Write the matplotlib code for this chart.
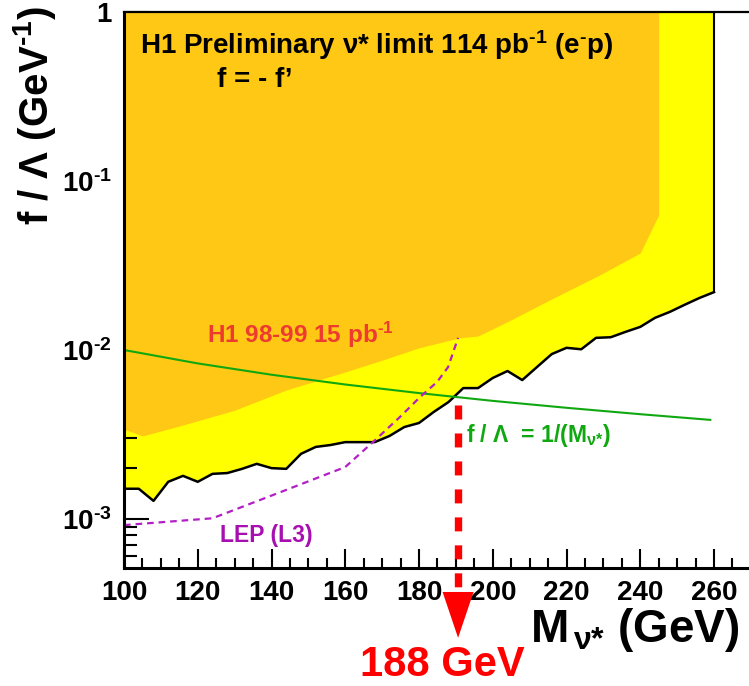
import matplotlib
matplotlib.use("Agg")
import matplotlib.pyplot as plt
from matplotlib.ticker import FixedLocator, FuncFormatter, LogLocator, MultipleLocator, NullFormatter

# ---------------- data ----------------
# H1 114 pb^-1 exclusion limit (black line, lower edge of yellow band)
mass = [100, 104, 108, 112, 116, 120, 124, 128, 132, 136, 140, 144, 148, 152,
        156, 160, 164, 168, 172, 176, 180, 184, 188, 192, 196, 200, 204, 208,
        212, 216, 220, 224, 228, 232, 236, 240, 244, 248, 252, 256, 260]
limit = [1.51e-3, 1.51e-3, 1.28e-3, 1.66e-3, 1.80e-3, 1.66e-3, 1.85e-3, 1.87e-3,
         1.98e-3, 2.12e-3, 2.00e-3, 1.98e-3, 2.43e-3, 2.67e-3, 2.74e-3, 2.85e-3,
         2.85e-3, 2.85e-3, 3.10e-3, 3.50e-3, 3.70e-3, 4.30e-3, 4.92e-3, 5.95e-3,
         5.95e-3, 6.83e-3, 7.51e-3, 6.64e-3, 7.93e-3, 9.46e-3, 1.03e-2, 1.01e-2,
         1.18e-2, 1.19e-2, 1.28e-2, 1.37e-2, 1.55e-2, 1.68e-2, 1.85e-2, 2.03e-2,
         2.20e-2]

# H1 98-99 15 pb^-1 limit (orange region lower edge)
old_mass = [100, 105, 115, 130, 144, 159, 170, 180, 191, 196, 204, 215.5, 229, 240, 245, 245]
old_limit = [3.4e-3, 3.1e-3, 3.55e-3, 4.4e-3, 5.8e-3, 7.3e-3, 8.7e-3, 1.03e-2,
             1.18e-2, 1.21e-2, 1.47e-2, 1.98e-2, 2.78e-2, 3.75e-2, 6.3e-2, 1.0]

# LEP (L3) limit (dashed magenta)
lep_mass = [100, 124, 142, 160, 167.5, 174.8, 180.3, 184.9, 187.9, 190.6]
lep_limit = [9.2e-4, 1.01e-3, 1.43e-3, 2.03e-3, 2.85e-3, 4.01e-3, 5.27e-3,
             6.47e-3, 7.93e-3, 1.18e-2]

# f / Lambda = 1/M curve (green)
curve_mass = [100, 120, 140, 160, 180, 200, 220, 240, 259]
curve_value = [1.0e-2, 8.33e-3, 7.14e-3, 6.25e-3, 5.56e-3, 5.0e-3, 4.55e-3, 4.17e-3, 3.86e-3]

# mass limit marker (red dashed line + arrow)
limit_mass = 190.6
marker_top = 4.7e-3
marker_bottom = 3.7e-4
arrow_tip = 1.98e-4
arrow_half_width = 4.2

x_major = [100, 120, 140, 160, 180, 200, 220, 240, 260]
y_major = [1e-3, 1e-2, 1e-1, 1.0]
y_labels = {1.0: "1", 1e-1: r"10$^{\text{-}1}$", 1e-2: r"10$^{\text{-}2}$",
            1e-3: r"10$^{\text{-}3}$"}

# ---------------- style ----------------
FAM = ["Liberation Sans", "DejaVu Sans"]
plt.rcParams["font.family"] = FAM
plt.rcParams["mathtext.fontset"] = "custom"
plt.rcParams["mathtext.rm"] = "Liberation Sans:bold"
plt.rcParams["mathtext.bf"] = "Liberation Sans:bold"
plt.rcParams["mathtext.it"] = "Liberation Sans"
plt.rcParams["mathtext.default"] = "rm"

ORANGE = "#ffc814"
YELLOW = "#ffff00"
GREEN = "#10a810"
MAGENTA = "#b21fc4"

W, H = 749, 686
fig = plt.figure(figsize=(W / 100, H / 100), dpi=100)
ax_left, ax_right_px, ax_top, ax_bottom = 124, 760, 12, 568
ax = fig.add_axes([ax_left / W, 1 - ax_bottom / H, (ax_right_px - ax_left) / W,
                   (ax_bottom - ax_top) / H])

ymin = 10 ** (-(ax_bottom - ax_top) / 169.0)
ax.set_yscale("log")
ax.set_ylim(ymin, 1.0)
px_per_gev = 590 / 160.0
ax.set_xlim(100, 100 + (ax_right_px - ax_left) / px_per_gev)

# filled regions
ax.fill_between(mass, limit, 1.0, color=YELLOW, lw=0, zorder=1)
ax.fill_between(old_mass, old_limit, 1.0, color=ORANGE, lw=0, zorder=2)

# curves
ax.plot(mass, limit, color="black", lw=1.8, zorder=4)
ax.plot([mass[-1], mass[-1]], [limit[-1], 1.0], color="black", lw=1.5, zorder=4)
ax.plot(curve_mass, curve_value, color=GREEN, lw=1.5, zorder=5)
ax.plot(lep_mass, lep_limit, color=MAGENTA, lw=1.6, zorder=5,
        dashes=(3, 2.2))

# red limit marker
ax.plot([limit_mass, limit_mass], [marker_top, marker_bottom], color="red",
        lw=5.3, dashes=(1.9, 1.9), dash_capstyle="butt", clip_on=False, zorder=6)
ax.fill([limit_mass - arrow_half_width, limit_mass + arrow_half_width, limit_mass],
        [marker_bottom, marker_bottom, arrow_tip], color="red", lw=0,
        clip_on=False, zorder=6)

# spines
for s in ["left", "bottom"]:
    ax.spines[s].set_linewidth(2.2)
ax.spines["top"].set_linewidth(1.6)
ax.spines["right"].set_visible(False)
for s in ax.spines.values():
    s.set_zorder(7)

# ticks
ax.xaxis.set_major_locator(FixedLocator(x_major))
ax.xaxis.set_minor_locator(MultipleLocator(5))
ax.yaxis.set_major_locator(FixedLocator(y_major))
ax.yaxis.set_minor_locator(LogLocator(base=10, subs=range(2, 10)))
ax.yaxis.set_minor_formatter(NullFormatter())
ax.yaxis.set_major_formatter(FuncFormatter(lambda v, p: y_labels.get(v, "")))
ax.tick_params(axis="both", which="both", direction="in", top=False, right=False,
               width=1.5, zorder=8)
ax.tick_params(axis="x", which="major", length=14, pad=9)
ax.tick_params(axis="x", which="minor", length=7)
ax.tick_params(axis="y", which="major", length=18, pad=9)
ax.tick_params(axis="y", which="minor", length=9)
for lab in ax.get_xticklabels() + ax.get_yticklabels():
    lab.set_fontsize(20)
    lab.set_fontweight("bold")

# texts
ax.text(0.025, 0.94, r"H1 Preliminary ν* limit 114 pb$^{\text{-}1}$ (e$^{\text{-}}$p)",
        transform=ax.transAxes, fontsize=20, fontweight="bold", va="center",
        ha="left", zorder=9)
ax.text(0.206, 0.878, "f = - f’", transform=ax.transAxes, fontsize=20,
        fontweight="bold", va="center", ha="center", zorder=9)
ax.text(0.130, 0.419, r"H1 98-99 15 pb$^{\text{-}1}$", transform=ax.transAxes,
        fontsize=17.5, fontweight="bold", color="#ee3b30", va="center", ha="left",
        zorder=9)
ax.text(0.151, 0.059, "LEP (L3)", transform=ax.transAxes, fontsize=16.5,
        fontweight="bold", color="#a70fb0", va="center", ha="left", zorder=9)
ax.text(0.537, 0.239, r"f / Λ  = 1/(M$_{\nu\text{*}}$)", transform=ax.transAxes,
        fontsize=16.5, fontweight="bold", color=GREEN, va="center", ha="left",
        zorder=9)

fig.text(35 / W, 1 - 116 / H, r"f / Λ (GeV$^{\text{-}1}$)", rotation=90,
         fontsize=29, fontweight="bold", ha="center", va="center")
fig.text(530 / W, 1 - 630 / H, r"M$_{\,\nu\text{*}}$ (GeV)", fontsize=33,
         fontweight="bold", ha="left", va="center")
fig.text(442 / W, 1 - 665 / H, "188 GeV", fontsize=30, fontweight="bold",
         color="red", ha="center", va="center")

fig.savefig("out.png", dpi=100)
